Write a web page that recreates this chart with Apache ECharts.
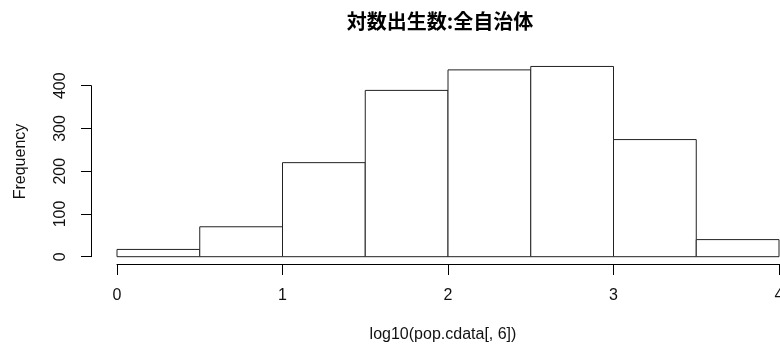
<!DOCTYPE html>
<html>
<head>
<meta charset="utf-8">
<script src="https://cdn.jsdelivr.net/npm/echarts@6/dist/echarts.min.js"></script>
<style>
  html, body { margin: 0; padding: 0; background: #fff; }
  #chart { width: 780px; height: 349px; }
</style>
</head>
<body>
<div id="chart"></div>
<script>
// Histogram of log10 birth counts, bins of width 0.5
const binStarts = [0, 0.5, 1, 1.5, 2, 2.5, 3, 3.5];
const binEnds = [0.5, 1, 1.5, 2, 2.5, 3, 3.5, 4];
const counts = [17, 70, 220, 389, 437, 445, 274, 40];
const xTicks = [0, 1, 2, 3, 4];
const yTicks = [0, 100, 200, 300, 400];

const titleText = '対数出生数:全自治体';
const xName = 'log10(pop.cdata[, 6])';
const yName = 'Frequency';

const latin = '"Liberation Sans", Arial, sans-serif';
const ink = '#111';

const data = counts.map((c, i) => [binStarts[i], binEnds[i], c]);

const xMin = xTicks[0], xMax = xTicks[xTicks.length - 1];
const yMin = yTicks[0], yMax = yTicks[yTicks.length - 1];

// Plot area: value 0 on the count scale sits at the bars' base; the
// axes are drawn a little apart from the bars, base-R style.
const plotLeft = 117, plotRight = 1, plotTop = 85.7, plotBottom = 92.3;
const xAxisBottom = 85;   // x axis line drawn below the bar baseline
const yAxisLeft = 91;     // y axis line drawn left of the first bin

const hiddenAxis = { show: false };

const chart = echarts.init(document.getElementById('chart'), null, { renderer: 'canvas' });

chart.setOption({
  animation: false,
  backgroundColor: '#fff',
  title: {
    text: titleText,
    left: 435,
    top: 6,
    textAlign: 'center',
    textStyle: {
      fontFamily: '"Noto Sans CJK JP", sans-serif',
      fontWeight: 'bold',
      fontSize: 20,
      color: '#000'
    }
  },
  grid: [
    { left: plotLeft, right: plotRight, top: plotTop, bottom: plotBottom, outerBoundsMode: 'none' },
    { left: plotLeft, right: plotRight, top: plotTop, bottom: xAxisBottom, outerBoundsMode: 'none' },
    { left: yAxisLeft, right: plotRight, top: plotTop, bottom: plotBottom, outerBoundsMode: 'none' }
  ],
  xAxis: [
    Object.assign({ gridIndex: 0, type: 'value', min: xMin, max: xMax }, hiddenAxis),
    {
      gridIndex: 1,
      type: 'value',
      min: xMin,
      max: xMax,
      interval: 1,
      axisLine: { show: true, onZero: false, lineStyle: { color: '#000', width: 1 } },
      axisTick: { show: true, length: 11, lineStyle: { color: '#000', width: 1 } },
      axisLabel: { fontFamily: latin, fontSize: 16, color: ink, margin: 24 },
      splitLine: { show: false }
    },
    Object.assign({ gridIndex: 2, type: 'value', min: xMin, max: xMax }, hiddenAxis)
  ],
  yAxis: [
    Object.assign({ gridIndex: 0, type: 'value', min: yMin, max: yMax }, hiddenAxis),
    Object.assign({ gridIndex: 1, type: 'value', min: yMin, max: yMax }, hiddenAxis),
    {
      gridIndex: 2,
      type: 'value',
      min: yMin,
      max: yMax,
      interval: 100,
      axisLine: { show: true, onZero: false, lineStyle: { color: '#000', width: 1 } },
      axisTick: { show: true, length: 10, lineStyle: { color: '#000', width: 1 } },
      axisLabel: { fontFamily: latin, fontSize: 16, color: ink, margin: 22, rotate: 90 },
      splitLine: { show: false }
    }
  ],
  graphic: [
    {
      type: 'text',
      x: 443, y: 335,
      style: {
        text: xName, fontFamily: latin, fontSize: 16, fill: ink,
        align: 'center', verticalAlign: 'middle'
      }
    },
    {
      type: 'text',
      x: 21, y: 161.5,
      rotation: Math.PI / 2,
      style: {
        text: yName, fontFamily: latin, fontSize: 16, fill: ink,
        align: 'center', verticalAlign: 'middle'
      }
    }
  ],
  series: [{
    type: 'custom',
    xAxisIndex: 0,
    yAxisIndex: 0,
    clip: false,
    data: data,
    renderItem: function (params, api) {
      const p0 = api.coord([api.value(0), api.value(2)]);
      const p1 = api.coord([api.value(1), 0]);
      return {
        type: 'rect',
        shape: { x: p0[0], y: p0[1], width: p1[0] - p0[0], height: p1[1] - p0[1] },
        style: { fill: '#fff', stroke: '#222', lineWidth: 1 }
      };
    }
  }]
});
</script>
</body>
</html>
